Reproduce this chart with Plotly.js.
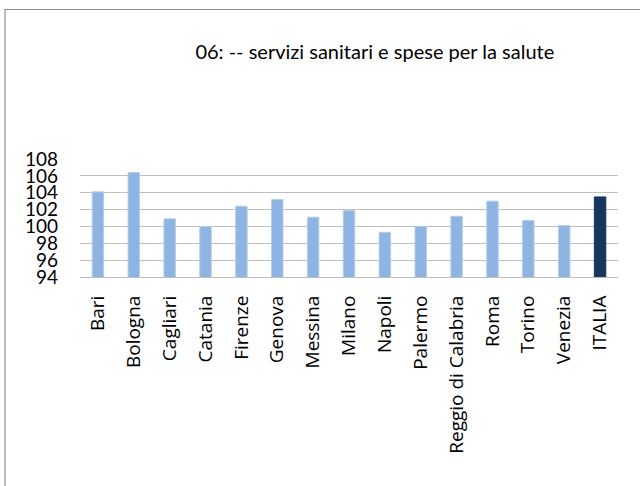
<!DOCTYPE html>
<html>
<head>
<meta charset="utf-8">
<script src="https://cdn.plot.ly/plotly-3.0.1.min.js"></script>
<style>
html,body{margin:0;padding:0;background:#fff;}
#frame{position:absolute;left:4px;top:9px;width:640px;height:480px;border-top:1px solid #8c8c8c;border-left:2px solid #bfbfbf;}
#chart{position:absolute;left:0;top:0;width:640px;height:486px;}
</style>
</head>
<body>
<div id="frame"></div>
<div id="chart"></div>
<script>
const categories = ["Bari","Bologna","Cagliari","Catania","Firenze","Genova","Messina","Milano","Napoli","Palermo","Reggio di Calabria","Roma","Torino","Venezia","ITALIA"];
const values = [104.1,106.4,100.9,100.0,102.4,103.2,101.1,101.9,99.3,100.0,101.2,103.0,100.7,100.1,103.5];
const highlight = "ITALIA";
const yTicks = [94,96,98,100,102,104,106,108];
const titleText = "06: -- servizi sanitari e spese per la salute";

const colors = categories.map(c => c === highlight ? "#17375E" : "#8EB4E3");
const lineColors = categories.map(c => c === highlight ? "#17375E" : "#B9CDE5");

const trace = {
  type: "bar",
  x: categories,
  y: values,
  marker: {color: colors, line: {color: lineColors, width: 1}},
  hoverinfo: "x+y"
};

const layout = {
  width: 640, height: 486,
  paper_bgcolor: "rgba(0,0,0,0)",
  plot_bgcolor: "rgba(0,0,0,0)",
  margin: {l: 80, r: 22, t: 159, b: 209, pad: 0},
  bargap: 0.68,
  showlegend: false,
  title: {
    text: titleText,
    font: {family: "Lato", size: 20, color: "#000"},
    xref: "paper", x: 0.548, xanchor: "center",
    yref: "container", y: 1 - 52/486, yanchor: "middle"
  },
  xaxis: {
    type: "category",
    tickangle: -90,
    tickfont: {family: "Open Sans", size: 19, color: "#000"},
    showgrid: false,
    showline: true, linecolor: "#BFBFBF", linewidth: 1,
    ticks: "", ticklabelstandoff: 10,
    automargin: false
  },
  yaxis: {
    range: [94, 108],
    tickvals: yTicks,
    ticktext: yTicks.map(String),
    tickfont: {family: "Lato", size: 19, color: "#000"},
    showgrid: true, gridcolor: "#BFBFBF", gridwidth: 1,
    zeroline: false, showline: false,
    ticks: "", ticklabelstandoff: 21,
    automargin: false
  }
};

Plotly.newPlot("chart", [trace], layout, {displayModeBar: false, staticPlot: true});
</script>
</body>
</html>
